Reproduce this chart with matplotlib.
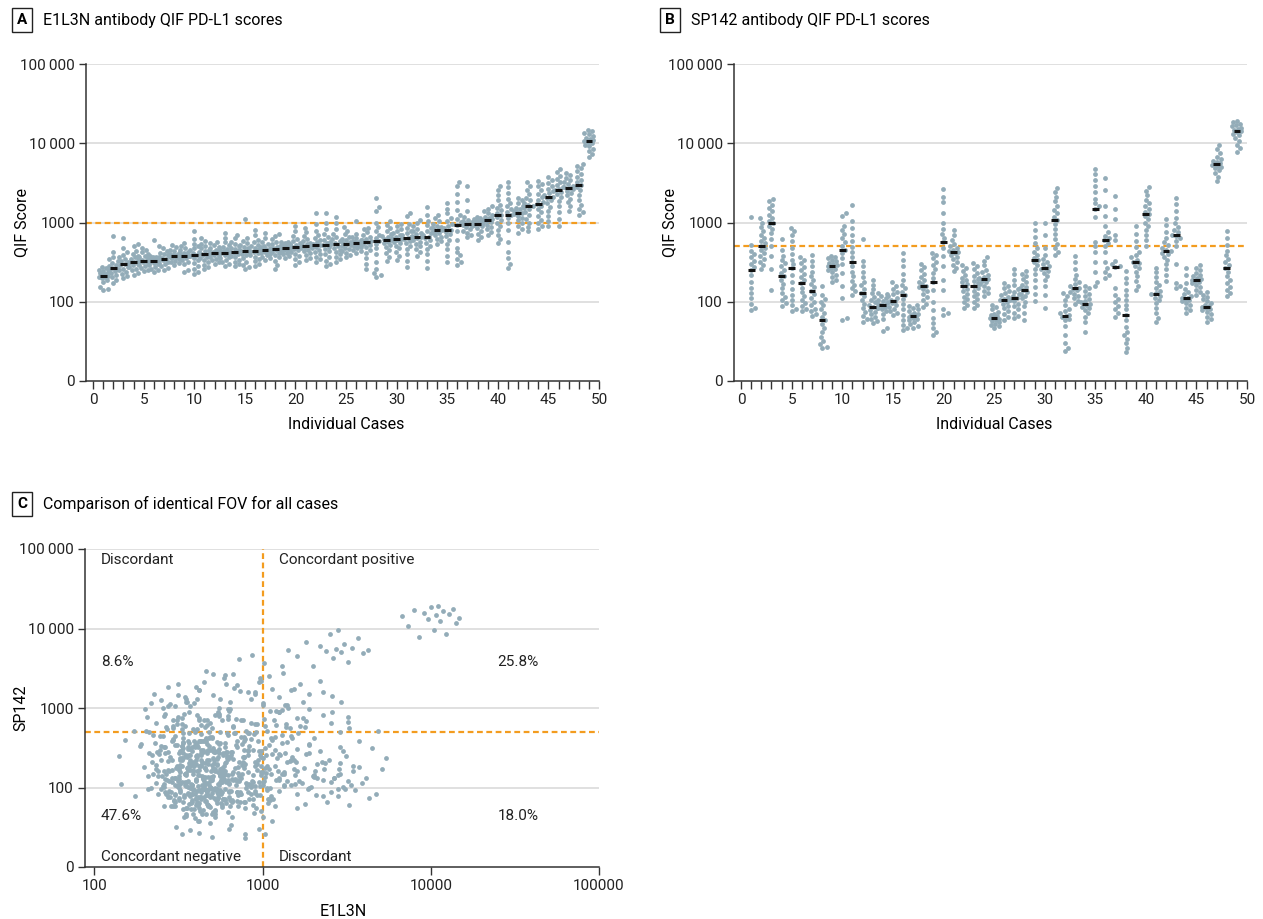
import numpy as np
import matplotlib
matplotlib.use('Agg')
import matplotlib.pyplot as plt
from matplotlib.ticker import FixedLocator, NullLocator, MultipleLocator

plt.rcParams['font.family'] = ['Roboto', 'DejaVu Sans']
plt.rcParams['font.size'] = 11

# ---- data ----
cases = list(range(1, 50))

# E1L3N QIF scores per case (FOVs)
e1l3n = [
    [140, 145, 152, 175, 188, 198, 204, 208, 211, 216, 222, 230, 238, 246, 255, 264, 275],
    [172, 190, 205, 220, 232, 245, 255, 262, 270, 282, 295, 308, 325, 345, 365, 420, 677],
    [199, 212, 225, 238, 250, 262, 275, 290, 303, 315, 330, 345, 365, 390, 420, 470, 636],
    [219, 232, 248, 262, 275, 290, 302, 312, 322, 334, 348, 362, 380, 405, 440, 500, 537],
    [241, 255, 268, 280, 292, 305, 315, 324, 331, 340, 352, 365, 380, 398, 420, 450, 483],
    [234, 250, 262, 275, 288, 300, 312, 322, 331, 338, 345, 352, 360, 366, 372, 380, 596],
    [253, 268, 282, 296, 310, 322, 333, 342, 350, 360, 372, 385, 400, 418, 440, 470, 498],
    [292, 305, 318, 330, 342, 352, 362, 370, 376, 384, 394, 405, 418, 432, 450, 485, 520],
    [237, 250, 300, 320, 338, 352, 364, 374, 383, 392, 402, 414, 428, 445, 470, 505, 548],
    [223, 238, 260, 285, 310, 335, 355, 375, 394, 410, 428, 448, 470, 500, 540, 620, 790],
    [258, 275, 295, 315, 335, 355, 372, 388, 402, 418, 435, 452, 472, 500, 540, 590, 645],
    [301, 318, 335, 350, 365, 380, 394, 406, 417, 428, 440, 455, 472, 492, 515, 545, 574],
    [284, 300, 318, 335, 352, 370, 386, 402, 417, 432, 448, 468, 490, 520, 560, 640, 732],
    [279, 298, 318, 340, 362, 382, 400, 416, 430, 445, 462, 480, 502, 530, 570, 630, 700],
    [258, 272, 290, 320, 355, 385, 405, 424, 439, 455, 472, 492, 515, 545, 590, 636, 1100],
    [279, 300, 325, 350, 372, 392, 410, 427, 442, 458, 476, 498, 525, 560, 610, 700, 808],
    [338, 355, 372, 388, 404, 418, 430, 442, 452, 462, 474, 488, 505, 530, 565, 640, 732],
    [258, 290, 330, 362, 390, 412, 430, 446, 460, 475, 492, 512, 538, 572, 615, 670, 718],
    [355, 375, 395, 412, 428, 440, 452, 463, 473, 483, 494, 506, 520, 536, 552, 565, 574],
    [292, 320, 350, 380, 405, 428, 448, 468, 487, 505, 525, 550, 580, 620, 680, 780, 892],
    [338, 360, 385, 410, 432, 452, 470, 487, 502, 518, 536, 558, 585, 620, 670, 750, 850],
    [322, 345, 370, 395, 420, 445, 470, 495, 517, 540, 565, 595, 635, 690, 780, 950, 1313],
    [279, 300, 330, 365, 400, 435, 465, 495, 522, 548, 575, 608, 650, 710, 820, 1000, 1337],
    [322, 345, 372, 400, 428, 455, 482, 508, 533, 558, 585, 618, 660, 720, 820, 980, 1190],
    [365, 390, 415, 438, 460, 480, 500, 520, 537, 555, 575, 598, 625, 660, 710, 790, 875],
    [412, 432, 452, 472, 490, 506, 522, 536, 548, 560, 574, 590, 608, 630, 660, 720, 1058],
    [258, 300, 360, 410, 450, 488, 515, 540, 560, 580, 600, 625, 655, 695, 750, 820, 850],
    [208, 218, 232, 260, 320, 400, 470, 535, 588, 640, 700, 780, 880, 1000, 1400, 1550, 2030],
    [330, 370, 410, 450, 488, 520, 548, 575, 600, 625, 652, 685, 725, 780, 850, 940, 1030],
    [338, 380, 425, 470, 510, 545, 572, 596, 618, 640, 664, 692, 728, 775, 835, 900, 960],
    [273, 330, 400, 460, 510, 552, 588, 615, 640, 665, 695, 730, 780, 850, 950, 1200, 1313],
    [380, 420, 460, 500, 540, 575, 605, 632, 658, 684, 712, 745, 785, 835, 900, 980, 1080],
    [265, 330, 400, 460, 510, 555, 595, 630, 665, 700, 740, 790, 850, 930, 1050, 1250, 1555],
    [537, 580, 620, 660, 698, 730, 758, 780, 800, 822, 848, 878, 915, 960, 1030, 1130, 1250],
    [313, 380, 460, 540, 610, 670, 720, 768, 815, 862, 912, 968, 1040, 1140, 1300, 1500, 1750],
    [292, 320, 350, 385, 420, 480, 600, 780, 930, 1020, 1120, 1250, 1450, 1800, 2300, 2900, 3260],
    [655, 700, 745, 790, 830, 868, 900, 928, 950, 975, 1005, 1040, 1090, 1180, 1400, 1900, 2880],
    [594, 650, 720, 790, 850, 895, 925, 948, 968, 985, 1002, 1020, 1040, 1065, 1095, 1140, 1190],
    [700, 760, 820, 880, 935, 985, 1025, 1058, 1085, 1112, 1145, 1185, 1235, 1300, 1380, 1490, 1600],
    [558, 620, 700, 800, 900, 1000, 1090, 1170, 1250, 1330, 1420, 1530, 1680, 1900, 2200, 2600, 2920],
    [270, 300, 360, 420, 560, 800, 1000, 1150, 1260, 1360, 1470, 1600, 1780, 2000, 2350, 2800, 3200],
    [747, 820, 900, 980, 1060, 1140, 1210, 1262, 1310, 1355, 1405, 1465, 1540, 1630, 1750, 1900, 2030],
    [770, 880, 1000, 1120, 1250, 1370, 1470, 1540, 1600, 1680, 1780, 1900, 2060, 2300, 2600, 2900, 3200],
    [825, 900, 980, 1080, 1200, 1340, 1480, 1610, 1710, 1810, 1940, 2100, 2300, 2550, 2850, 3100, 3360],
    [905, 1050, 1220, 1400, 1580, 1760, 1900, 2010, 2110, 2210, 2330, 2480, 2660, 2880, 3150, 3450, 3730],
    [905, 1100, 1350, 1600, 1850, 2080, 2280, 2420, 2540, 2670, 2820, 3000, 3250, 3550, 3900, 4300, 4700],
    [1410, 1600, 1800, 2000, 2200, 2380, 2520, 2630, 2720, 2810, 2920, 3050, 3220, 3420, 3680, 3950, 4260],
    [1250, 1350, 1480, 1650, 1900, 2250, 2550, 2800, 2990, 3200, 3450, 3750, 4100, 4500, 4850, 5150, 5450],
    [6720, 7300, 7900, 8500, 9100, 9600, 10000, 10400, 10700, 11000, 11400, 11800, 12300, 12900, 13500, 14100, 14700],
]

# SP142 QIF scores per case (same FOVs)
sp142 = [
    [79, 84, 95, 110, 128, 150, 180, 215, 248, 275, 300, 330, 365, 400, 440, 520, 1160],
    [258, 290, 320, 350, 380, 410, 445, 480, 512, 548, 590, 640, 700, 780, 880, 1000, 1130],
    [139, 258, 380, 500, 620, 740, 840, 915, 978, 1050, 1150, 1260, 1380, 1520, 1680, 1850, 1980],
    [89, 96, 104, 115, 130, 148, 168, 190, 211, 232, 255, 280, 305, 335, 380, 450, 622],
    [76, 82, 92, 105, 122, 145, 175, 220, 265, 300, 340, 400, 480, 580, 700, 780, 850],
    [76, 82, 88, 96, 106, 118, 132, 150, 170, 188, 205, 225, 248, 275, 305, 340, 372],
    [67, 71, 76, 82, 90, 100, 112, 125, 138, 152, 168, 188, 210, 240, 280, 330, 390],
    [26, 27, 29, 32, 36, 41, 46, 52, 58, 64, 72, 80, 90, 100, 108, 120, 159],
    [175, 190, 205, 220, 235, 248, 260, 270, 279, 288, 298, 310, 324, 340, 355, 368, 380],
    [59, 62, 110, 160, 230, 300, 360, 410, 452, 500, 560, 630, 710, 800, 900, 1200, 1310],
    [122, 135, 148, 165, 185, 210, 240, 280, 319, 365, 420, 490, 580, 700, 850, 1050, 1670],
    [56, 60, 66, 74, 84, 95, 106, 118, 130, 145, 162, 180, 205, 235, 280, 330, 615],
    [54, 57, 61, 65, 70, 75, 79, 83, 87, 92, 98, 105, 115, 128, 145, 165, 189],
    [43, 46, 60, 70, 76, 80, 84, 87, 90, 93, 97, 101, 106, 112, 118, 124, 129],
    [69, 73, 77, 82, 87, 92, 96, 99, 102, 106, 111, 117, 124, 133, 145, 160, 175],
    [44, 47, 51, 58, 68, 80, 94, 108, 120, 133, 148, 165, 190, 225, 280, 340, 418],
    [47, 49, 52, 55, 58, 61, 63, 65, 66, 68, 70, 73, 76, 80, 84, 88, 92],
    [85, 95, 106, 116, 126, 136, 144, 152, 159, 167, 176, 188, 204, 225, 250, 275, 298],
    [38, 42, 47, 54, 63, 78, 100, 140, 175, 200, 228, 258, 290, 320, 355, 390, 418],
    [69, 72, 80, 140, 190, 280, 380, 470, 565, 640, 720, 820, 1000, 1300, 1800, 2100, 2640],
    [241, 268, 295, 322, 348, 372, 392, 408, 423, 438, 455, 475, 500, 540, 600, 700, 808],
    [83, 90, 98, 107, 116, 126, 136, 146, 156, 166, 176, 188, 202, 220, 245, 270, 292],
    [83, 90, 98, 107, 117, 127, 138, 148, 159, 170, 182, 196, 212, 232, 258, 285, 307],
    [119, 128, 138, 148, 158, 167, 176, 184, 191, 199, 208, 220, 235, 255, 290, 330, 365],
    [47, 49, 51, 53, 55, 57, 59, 61, 62, 64, 66, 68, 71, 75, 80, 86, 92],
    [59, 64, 70, 76, 83, 89, 94, 99, 104, 109, 115, 121, 128, 137, 148, 160, 172],
    [62, 67, 73, 80, 88, 95, 101, 106, 111, 117, 124, 133, 145, 165, 190, 225, 258],
    [58, 72, 88, 100, 110, 119, 127, 134, 140, 147, 155, 165, 177, 192, 210, 225, 241],
    [101, 125, 155, 190, 225, 260, 290, 315, 335, 360, 390, 430, 480, 550, 650, 800, 978],
    [83, 120, 160, 190, 212, 230, 245, 257, 268, 282, 298, 318, 345, 390, 480, 700, 978],
    [390, 430, 480, 540, 620, 720, 830, 950, 1070, 1180, 1300, 1450, 1620, 1850, 2100, 2400, 2700],
    [24, 26, 30, 38, 50, 58, 61, 64, 66, 69, 72, 76, 82, 92, 105, 118, 129],
    [94, 102, 110, 118, 126, 133, 139, 145, 150, 157, 166, 178, 195, 220, 260, 320, 380],
    [42, 55, 65, 72, 78, 83, 87, 91, 94, 98, 103, 109, 117, 126, 137, 148, 156],
    [156, 175, 240, 320, 420, 500, 575, 1180, 1460, 1600, 1750, 2000, 2400, 2900, 3400, 4100, 4700],
    [198, 215, 240, 270, 320, 420, 500, 555, 594, 630, 680, 750, 900, 1200, 1600, 2600, 3650],
    [65, 72, 80, 88, 98, 108, 120, 150, 276, 285, 300, 330, 600, 700, 1100, 1480, 2170],
    [23, 26, 30, 34, 38, 42, 48, 58, 69, 80, 92, 105, 120, 140, 170, 200, 241],
    [142, 160, 185, 210, 240, 265, 285, 305, 322, 340, 362, 390, 430, 490, 580, 720, 905],
    [510, 600, 700, 800, 900, 1000, 1100, 1200, 1280, 1370, 1480, 1600, 1750, 1950, 2200, 2500, 2770],
    [55, 62, 72, 84, 96, 106, 113, 119, 124, 130, 138, 148, 162, 180, 205, 235, 270],
    [185, 220, 260, 300, 340, 372, 398, 418, 435, 455, 480, 515, 560, 630, 750, 920, 1100],
    [149, 160, 172, 300, 500, 580, 630, 670, 704, 750, 810, 880, 980, 1150, 1400, 1700, 2030],
    [72, 78, 84, 90, 96, 101, 105, 108, 110, 113, 118, 124, 132, 145, 170, 220, 265],
    [122, 132, 142, 152, 162, 170, 177, 183, 189, 195, 202, 210, 220, 233, 250, 270, 292],
    [56, 60, 65, 70, 74, 78, 81, 84, 86, 89, 92, 96, 101, 107, 115, 123, 131],
    [3360, 3800, 4200, 4550, 4850, 5050, 5200, 5320, 5430, 5560, 5720, 5950, 6300, 6800, 7500, 8500, 9500],
    [119, 130, 142, 155, 170, 188, 210, 238, 265, 290, 318, 350, 390, 440, 520, 640, 770],
    [7800, 8600, 9600, 10800, 11800, 12600, 13200, 13700, 14200, 14700, 15200, 15800, 16400, 17000, 17700, 18400, 19000],
]

# order in which SP142 FOVs pair up with the E1L3N FOVs for panel C
fov_order = [8, 3, 13, 0, 11, 6, 15, 2, 9, 16, 5, 12, 1, 10, 14, 4, 7]

cutoff_e1l3n = 1000
cutoff_sp142 = 500

y_ticks = [10, 100, 1000, 10000, 100000]
y_tick_labels = ['0', '100', '1000', '10\u2009000', '100\u2009000']
c_x_ticks = [100, 1000, 10000, 100000]
c_x_tick_labels = ['100', '1000', '10000', '100000']
quadrant_pct = ['8.6%', '25.8%', '47.6%', '18.0%']

DOT = '#93acb8'
ORANGE = '#f39c1f'
GRID = '#dddddd'
SPINE = '#333333'

W, H = 1263, 919
fig = plt.figure(figsize=(W / 100, H / 100), dpi=100)


def px_axes(left, top, right, bottom):
    return fig.add_axes([left / W, 1 - bottom / H, (right - left) / W, (bottom - top) / H])


def style_axes(ax):
    for s in ['top', 'right']:
        ax.spines[s].set_visible(False)
    for s in ['left', 'bottom']:
        ax.spines[s].set_color(SPINE)
        ax.spines[s].set_linewidth(1.1)
    ax.set_yscale('log')
    ax.set_ylim(10, 100000)
    ax.yaxis.set_major_locator(FixedLocator(y_ticks))
    ax.yaxis.set_minor_locator(NullLocator())
    ax.set_yticklabels(y_tick_labels)
    for t in y_ticks[1:]:
        ax.axhline(t, color=GRID, lw=1.3, zorder=0)
    ax.tick_params(axis='both', which='both', color=SPINE, length=5, width=1,
                   labelsize=11, labelcolor='#222222', pad=3)


def swarm(ax, xpos, vals, dot_px=4.4, max_px=4.5):
    # narrow beeswarm: spread points sideways, but never wider than max_px
    xy = ax.transData.transform(np.column_stack([np.full(len(vals), float(xpos)), vals]))
    px_unit = ax.transData.transform((1, 1))[0] - ax.transData.transform((0, 1))[0]
    cands = [0.0]
    for s in np.arange(0.5, max_px + 0.01, 0.5):
        cands += [s, -s]
    placed = []
    offs = []
    for y in xy[:, 1]:
        best, best_d = 0.0, -1
        for c in cands:
            d = min([np.hypot(c - px, y - py) for px, py in placed] + [99])
            if d >= dot_px:
                best = c
                break
            if d > best_d:
                best, best_d = c, d
        placed.append((best, y))
        offs.append(best)
    return xpos + np.array(offs) / px_unit


def case_panel(ax, data, cutoff):
    style_axes(ax)
    ax.set_xlim(-0.7, 50)
    ax.xaxis.set_major_locator(MultipleLocator(5))
    ax.xaxis.set_minor_locator(MultipleLocator(1))
    ax.tick_params(axis='x', which='both', length=6)
    ax.axhline(cutoff, color=ORANGE, lw=1.6, ls=(0, (2.6, 1.6)), zorder=1)
    for k, vals in zip(cases, data):
        vals = np.sort(np.array(vals, dtype=float))
        xs = swarm(ax, k, vals)
        ax.scatter(xs, vals, s=12, color=DOT, linewidths=0, zorder=2)
        ax.hlines(np.median(vals), k - 0.33, k + 0.33, color='#111111', lw=2.2, zorder=3)
    ax.set_xlabel('Individual Cases', fontsize=11.5)
    ax.xaxis.set_label_coords(0.507, -0.115)
    ax.set_ylabel('QIF Score', fontsize=11.5)
    ax.yaxis.set_label_coords(-0.11, 0.5)


def panel_title(x_box, y, letter, text):
    fig.text(x_box / W, 1 - y / H, letter, ha='center', va='center', fontsize=11,
             fontweight='bold',
             bbox=dict(boxstyle='square,pad=0.35', fc='white', ec='#222222', lw=1))
    fig.text((x_box + 21) / W, 1 - y / H, text, ha='left', va='center', fontsize=11.5)


# ---- panel A ----
axA = px_axes(86, 64, 599, 381)
case_panel(axA, e1l3n, cutoff_e1l3n)
panel_title(22, 20, 'A', 'E1L3N antibody QIF PD-L1 scores')

# ---- panel B ----
axB = px_axes(734, 64, 1247, 381)
case_panel(axB, sp142, cutoff_sp142)
panel_title(670, 20, 'B', 'SP142 antibody QIF PD-L1 scores')

# ---- panel C ----
axC = px_axes(85, 549, 599, 867)
style_axes(axC)
axC.set_xscale('log')
axC.set_xlim(88, 100000)
axC.xaxis.set_major_locator(FixedLocator(c_x_ticks))
axC.xaxis.set_minor_locator(NullLocator())
axC.set_xticklabels(c_x_tick_labels)
axC.tick_params(axis='x', which='both', length=6)
cx, cy = [], []
for a_vals, b_vals in zip(e1l3n, sp142):
    for i, j in enumerate(fov_order):
        cx.append(a_vals[i])
        cy.append(b_vals[j])
axC.scatter(cx, cy, s=12, color=DOT, linewidths=0, zorder=2)
axC.axvline(cutoff_e1l3n, color=ORANGE, lw=1.6, ls=(0, (2.6, 1.6)), zorder=1)
axC.axhline(cutoff_sp142, color=ORANGE, lw=1.6, ls=(0, (2.6, 1.6)), zorder=1)
axC.set_xlabel('E1L3N', fontsize=11.5)
axC.xaxis.set_label_coords(0.502, -0.115)
axC.set_ylabel('SP142', fontsize=11.5)
axC.yaxis.set_label_coords(-0.11, 0.5)

tx = dict(transform=axC.transAxes, fontsize=11, color='#222222', va='center')
axC.text(0.031, 0.965, 'Discordant', **tx)
axC.text(0.377, 0.965, 'Concordant positive', **tx)
axC.text(0.031, 0.645, quadrant_pct[0], **tx)
axC.text(0.803, 0.645, quadrant_pct[1], **tx)
axC.text(0.031, 0.160, quadrant_pct[2], **tx)
axC.text(0.803, 0.160, quadrant_pct[3], **tx)
axC.text(0.031, 0.031, 'Concordant negative', **tx)
axC.text(0.377, 0.031, 'Discordant', **tx)
panel_title(22, 504, 'C', 'Comparison of identical FOV for all cases')

fig.savefig('out.png', dpi=100)
